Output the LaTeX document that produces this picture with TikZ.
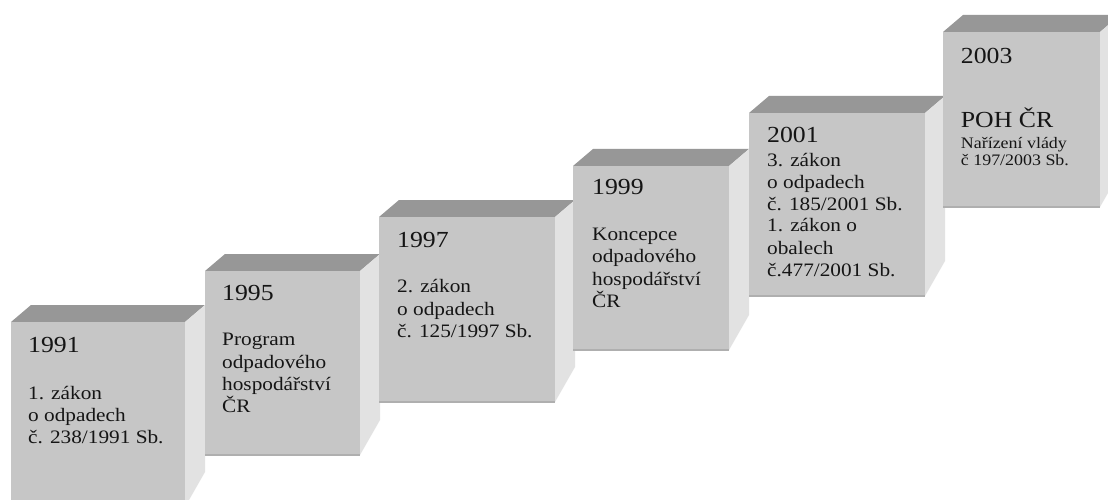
\documentclass[tikz,border=0pt]{standalone}
\usepackage{fontspec}
\setmainfont{Liberation Serif}[FakeStretch=1.12]
\definecolor{frontc}{HTML}{C6C6C6}
\definecolor{topc}{HTML}{979797}
\definecolor{sidec}{HTML}{E2E2E2}
\definecolor{edgec}{HTML}{AFAFAF}
\definecolor{txtc}{HTML}{151515}
\tikzset{
  frontface/.style={fill=frontc},
  topface/.style={fill=topc},
  sideface/.style={fill=sidec},
  bottomedge/.style={draw=edgec,line width=1.5pt},
  yeartxt/.style={inner sep=0pt,anchor=base west,text=txtc,font=\fontsize{23}{23}\selectfont},
  bodytxt/.style={inner sep=0pt,anchor=base west,text=txtc,font=\fontsize{19}{19}\selectfont},
  smalltxt/.style={inner sep=0pt,anchor=base west,text=txtc,font=\fontsize{16}{16}\selectfont},
}
% cube: x1, x2, ytop, ybot
\newcommand\mycube[4]{%
  \fill[topface] (#1,#3) -- (#1+20,#3-17) -- (#2+20,#3-17) -- (#2,#3) -- cycle;
  \fill[sideface] (#2,#3) -- (#2+20,#3-17) -- (#2+20,#4-35) -- (#2,#4) -- cycle;
  \fill[frontface] (#1,#3) rectangle (#2,#4);
  \draw[bottomedge] (#1,#4) -- (#2,#4);
}
\begin{document}
\begin{tikzpicture}[x=1pt,y=-1pt]
\useasboundingbox (0,0) rectangle (1108,500);
\clip (0,0) rectangle (1108,500);
\fill[white] (0,0) rectangle (1108,500);
\mycube{11}{185}{322}{507}
\mycube{205}{360}{271}{455}
\mycube{379}{555}{217}{402}
\mycube{573}{729}{166}{350}
\mycube{749}{925}{113}{296}
\mycube{943}{1100}{32}{207}
% box 1
\node[yeartxt] (y1) at (28,352.7) {1991};
\node[bodytxt] (a1) at (28,399) {1. zákon};
\node[bodytxt] (b1) at (28,421) {o odpadech};
\node[bodytxt] (c1) at (28,443) {č. 238/1991 Sb.};
% box 2
\node[yeartxt] (y2) at (222,300.7) {1995};
\node[bodytxt] (a2) at (222,345.7) {Program};
\node[bodytxt] (b2) at (222,368) {odpadového};
\node[bodytxt] (c2) at (222,390) {hospodářství};
\node[bodytxt] (d2) at (222,412) {ČR};
% box 3
\node[yeartxt] (y3) at (397,247.7) {1997};
\node[bodytxt] (a3) at (397,292.5) {2. zákon};
\node[bodytxt] (b3) at (397,315) {o odpadech};
\node[bodytxt] (c3) at (397,337) {č. 125/1997 Sb.};
% box 4
\node[yeartxt] (y4) at (592,194) {1999};
\node[bodytxt] (a4) at (592,240.7) {Koncepce};
\node[bodytxt] (b4) at (592,262.7) {odpadového};
\node[bodytxt] (c4) at (592,285) {hospodářství};
\node[bodytxt] (d4) at (592,307) {ČR};
% box 5
\node[yeartxt] (y5) at (767,142.7) {2001};
\node[bodytxt] (a5) at (767,166) {3. zákon};
\node[bodytxt] (b5) at (767,188.2) {o odpadech};
\node[bodytxt] (c5) at (767,210) {č. 185/2001 Sb.};
\node[bodytxt] (d5) at (767,231.7) {1. zákon o};
\node[bodytxt] (e5) at (767,254) {obalech};
\node[bodytxt] (f5) at (767,276) {č.477/2001 Sb.};
% box 6
\node[yeartxt] (y6) at (960.7,64) {2003};
\node[yeartxt] (a6) at (960.7,128) {POH ČR};
\node[smalltxt] (b6) at (960.7,148.3) {Nařízení vlády};
\node[smalltxt] (c6) at (960.7,165.7) {č 197/2003 Sb.};
\end{tikzpicture}
\end{document}
